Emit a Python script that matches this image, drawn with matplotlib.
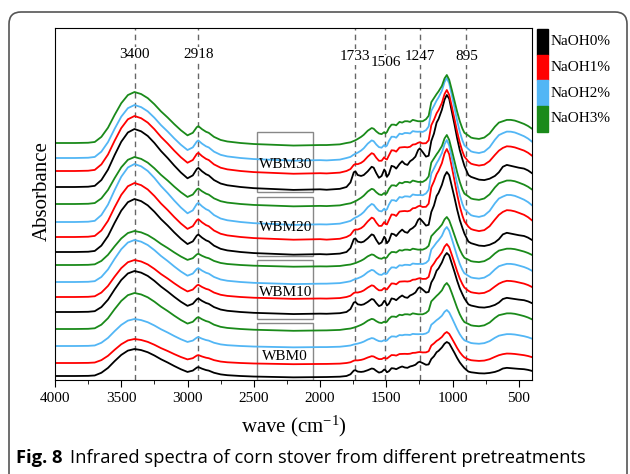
import numpy as np
import matplotlib.pyplot as plt
from matplotlib.patches import Rectangle, FancyBboxPatch
from matplotlib.transforms import IdentityTransform

plt.rcParams['font.family'] = 'Liberation Serif'
plt.rcParams['mathtext.default'] = 'regular'

# sample groups (rows) and NaOH levels (columns)
groups = ['WBM0', 'WBM10', 'WBM20', 'WBM30']
naoh = ['NaOH0%', 'NaOH1%', 'NaOH2%', 'NaOH3%']
colors = ['#000000', '#ff0000', '#52b6f5', '#1a8a1a']

# stacked offset of each spectrum at 4000 cm-1
baseline = [[0.04, 0.17, 0.34, 0.51],
            [0.68, 0.83, 0.98, 1.15],
            [1.28, 1.43, 1.58, 1.76],
            [1.93, 2.09, 2.22, 2.37]]
# height of the O-H band (3400) above the offset
oh_height = [[0.27, 0.24, 0.27, 0.36],
             [0.41, 0.37, 0.42, 0.34],
             [0.53, 0.54, 0.58, 0.47],
             [0.58, 0.55, 0.53, 0.51]]
# height of the C-O band (~1043) above the offset
fp_height = [[0.34, 0.31, 0.36, 0.46],
             [0.59, 0.53, 0.55, 0.48],
             [0.80, 0.88, 0.82, 0.69],
             [0.92, 0.81, 0.80, 0.68]]
# share of the untreated fingerprint shape (1733 ester band etc.)
carbonyl = [1.0, 0.35, 0.1, 0.0]

# band shape 4000-2000 cm-1
oh_wn = [4000, 3850, 3750, 3700, 3650, 3600, 3550, 3500, 3450, 3400, 3350, 3300,
         3250, 3200, 3150, 3100, 3050, 3000, 2960, 2930, 2918, 2890, 2860, 2840,
         2800, 2750, 2700, 2600, 2500, 2400, 2200, 2000]
oh_shape = [0, 0, 0.005, 0.02, 0.12, 0.3, 0.55, 0.78, 0.94, 1.0, 0.96, 0.88,
            0.76, 0.62, 0.5, 0.37, 0.25, 0.15, 0.2, 0.31, 0.33, 0.27, 0.22, 0.2,
            0.12, 0.06, 0.03, 0.0, -0.02, -0.03, -0.05, -0.04]

# fingerprint region 1950-400 cm-1
fp_wn = [1950, 1850, 1800, 1770, 1745, 1733, 1715, 1690, 1670, 1640,
         1610, 1595, 1575, 1555, 1535, 1515, 1506, 1495, 1480, 1460,
         1440, 1425, 1400, 1380, 1360, 1340, 1320, 1300, 1280, 1260,
         1247, 1225, 1200, 1180, 1160, 1140, 1120, 1105, 1080, 1060,
         1043, 1025, 1005, 985, 965, 945, 925, 910, 895, 880,
         860, 840, 800, 760, 720, 680, 650, 620, 590, 560,
         530, 500, 460, 430, 400]
fp_raw = [-0.03, -0.02, 0.0, 0.05, 0.16, 0.17, 0.13, 0.12, 0.13, 0.17,
          0.22, 0.21, 0.15, 0.10, 0.12, 0.19, 0.17, 0.11, 0.14, 0.23,
          0.22, 0.20, 0.25, 0.28, 0.25, 0.24, 0.28, 0.30, 0.33, 0.40,
          0.42, 0.38, 0.33, 0.34, 0.50, 0.58, 0.70, 0.74, 0.84, 0.95,
          1.0, 0.96, 0.82, 0.68, 0.53, 0.40, 0.30, 0.23, 0.18, 0.13,
          0.11, 0.10, 0.08, 0.075, 0.09, 0.12, 0.16, 0.22, 0.24, 0.23,
          0.22, 0.21, 0.20, 0.18, 0.15]
fp_treated = [-0.03, -0.02, 0.0, 0.01, 0.03, 0.04, 0.06, 0.09, 0.12, 0.18,
              0.22, 0.21, 0.17, 0.14, 0.13, 0.16, 0.14, 0.16, 0.22, 0.27,
              0.27, 0.26, 0.31, 0.30, 0.32, 0.32, 0.31, 0.34, 0.33, 0.32,
              0.32, 0.32, 0.35, 0.40, 0.60, 0.66, 0.72, 0.76, 0.84, 0.95,
              1.0, 0.93, 0.78, 0.62, 0.46, 0.32, 0.21, 0.15, 0.13, 0.11,
              0.08, 0.07, 0.06, 0.08, 0.14, 0.24, 0.30, 0.32, 0.34, 0.34,
              0.33, 0.31, 0.28, 0.25, 0.21]

peaks = [3400, 2918, 1733, 1506, 1247, 895]
peak_label_y = [3.25, 3.25, 3.23, 3.17, 3.23, 3.23]
box_y = [(0.0, 0.57), (0.61, 1.20), (1.24, 1.83), (1.88, 2.48)]
box_label_y = [0.24, 0.88, 1.52, 2.15]

fig = plt.figure(figsize=(6.3, 4.74), dpi=100)
ax = fig.add_axes([55 / 630, 94 / 474, 477 / 630, 352 / 474])

wn = np.array(oh_wn + fp_wn)
for g in range(4):
    for k in range(4):
        fp = carbonyl[k] * np.array(fp_raw) + (1 - carbonyl[k]) * np.array(fp_treated)
        y = np.concatenate([oh_height[g][k] * np.array(oh_shape),
                            fp_height[g][k] * fp]) + baseline[g][k]
        ax.plot(wn, y, color=colors[k], lw=1.3)

for p, ly in zip(peaks, peak_label_y):
    ax.axvline(p, color='#666666', lw=1, dashes=(4, 3), zorder=0)
    ax.text(p, ly, str(p), ha='center', va='center', fontsize=11,
            bbox=dict(fc='white', ec='none', pad=1))

for (b0, b1), ly, name in zip(box_y, box_label_y, groups):
    ax.add_patch(Rectangle((2475, b0), -425, b1 - b0, fill=False,
                           ec='#888888', lw=1))
    ax.text(2262, ly, name, ha='center', va='center', fontsize=11)

ax.set_xlim(4000, 400)
ax.set_ylim(0, 3.52)
ax.set_xticks([4000, 3500, 3000, 2500, 2000, 1500, 1000, 500])
ax.set_xticks(np.arange(3750, 400, -500), minor=True)
ax.set_yticks([])
ax.tick_params(axis='x', direction='out', length=5, labelsize=11, pad=4)
ax.tick_params(axis='x', which='minor', direction='out', length=3)
ax.set_xlabel('wave (cm$^{-1}$)', fontsize=15, labelpad=6)
ax.text(-0.027, 0.537, 'Absorbance', rotation=90, ha='center', va='center',
        fontsize=15, transform=ax.transAxes)

# colour-block legend on the right
for k in range(4):
    y_top = 474 - 29 - k * 25.7
    fig.patches.append(Rectangle((537, y_top - 25.7), 11, 25.7, color=colors[k],
                                 transform=IdentityTransform(), figure=fig))
    fig.text(551 / 630, (y_top - 12.8) / 474, naoh[k], va='center', fontsize=11)

# rounded frame and caption
fig.patches.append(FancyBboxPatch((9, -30), 618, 474 - 12 + 30,
                                  boxstyle='round,pad=0,rounding_size=12',
                                  fill=False, ec='#555555', lw=1.2,
                                  transform=IdentityTransform(), figure=fig))
cap1 = fig.text(16 / 630, 16 / 474, 'Fig. 8', family='Open Sans',
                weight='bold', fontsize=13.2, va='center')
renderer = fig.canvas.get_renderer()
bb = cap1.get_window_extent(renderer)
fig.text((bb.x1 + 8) / 630, 16 / 474,
         'Infrared spectra of corn stover from different pretreatments',
         family='Open Sans', fontsize=13.2, va='center')

fig.savefig('out.png', dpi=100)
